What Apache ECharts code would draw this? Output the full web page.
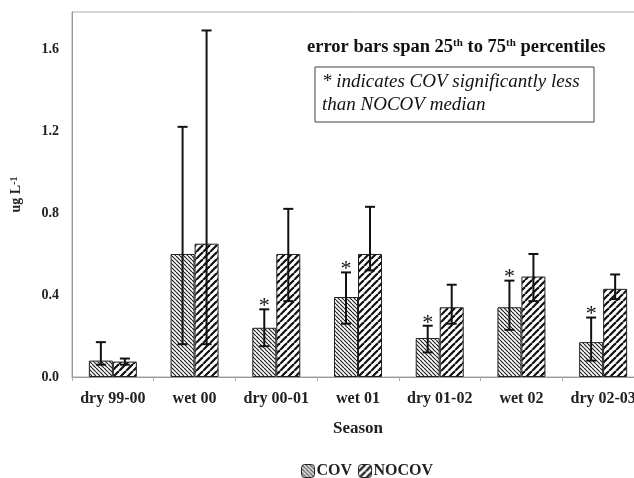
<!DOCTYPE html>
<html>
<head>
<meta charset="utf-8">
<script src="https://cdn.jsdelivr.net/npm/echarts@6/dist/echarts.min.js"></script>
<style>
  html, body { margin: 0; padding: 0; background: #fff; }
  #chart { width: 634px; height: 478px; }
</style>
</head>
<body>
<div id="chart"></div>
<script>
  // data
  const categories = ['dry 99-00', 'wet 00', 'dry 00-01', 'wet 01', 'dry 01-02', 'wet 02', 'dry 02-03'];
  const covMedian = [0.08, 0.60, 0.24, 0.39, 0.19, 0.34, 0.17];
  const nocovMedian = [0.075, 0.65, 0.60, 0.60, 0.34, 0.49, 0.43];
  const covP25 = [0.06, 0.16, 0.15, 0.26, 0.12, 0.23, 0.08];
  const covP75 = [0.17, 1.22, 0.33, 0.51, 0.25, 0.47, 0.29];
  const nocovP25 = [0.06, 0.16, 0.37, 0.52, 0.26, 0.37, 0.38];
  const nocovP75 = [0.09, 1.69, 0.82, 0.83, 0.45, 0.60, 0.50];
  const covSignificant = [0, 0, 1, 1, 1, 1, 1];
  const yTicks = [0, 0.4, 0.8, 1.2, 1.6];

  const serif = '"Liberation Serif", "DejaVu Serif", serif';
  const barW = 24;

  // hatch fills
  function hatch(size, width, color, dir) {
    const c = document.createElement('canvas');
    c.width = size; c.height = size;
    const ctx = c.getContext('2d');
    ctx.fillStyle = '#fff';
    ctx.fillRect(0, 0, size, size);
    ctx.strokeStyle = color;
    ctx.lineWidth = width;
    for (let k = -1; k <= 1; k++) {
      const x = k * size;
      ctx.beginPath();
      if (dir === 'back') {
        ctx.moveTo(x, 0); ctx.lineTo(x + size, size);
      } else {
        ctx.moveTo(x + size, 0); ctx.lineTo(x, size);
      }
      ctx.stroke();
    }
    return { image: c, repeat: 'repeat' };
  }
  const covFill = hatch(4, 1.2, '#222', 'back');
  const nocovFill = hatch(7, 2.2, '#111', 'fwd');

  function errorSeries(name, lo, hi, side, stars) {
    return {
      name: name + ' err',
      type: 'custom',
      z: 5,
      silent: true,
      data: categories.map((c, i) => [i, lo[i], hi[i], stars ? stars[i] : 0]),
      renderItem: function (params, api) {
        const i = api.value(0);
        const pLo = api.coord([i, api.value(1)]);
        const pHi = api.coord([i, api.value(2)]);
        const x = pLo[0] + side * barW / 2;
        const cap = 5;
        const style = { stroke: '#111', lineWidth: 2 };
        const children = [
          { type: 'line', shape: { x1: x, y1: pLo[1], x2: x, y2: pHi[1] }, style: style },
          { type: 'line', shape: { x1: x - cap, y1: pHi[1], x2: x + cap, y2: pHi[1] }, style: style },
          { type: 'line', shape: { x1: x - cap, y1: pLo[1], x2: x + cap, y2: pLo[1] }, style: style }
        ];
        if (api.value(3)) {
          children.push({
            type: 'text',
            style: {
              text: '*', x: x, y: pHi[1] + 8,
              align: 'center', verticalAlign: 'bottom',
              font: '22px ' + serif, fill: '#111'
            }
          });
        }
        return { type: 'group', children: children };
      }
    };
  }

  const chart = echarts.init(document.getElementById('chart'));
  const option = {
    animation: false,
    grid: {
      left: 72, top: 12, bottom: 101, width: 572,
      outerBoundsMode: 'none',
      show: true, borderColor: '#aaa', borderWidth: 1
    },
    legend: {
      data: [
        { name: 'COV', itemStyle: { color: covFill, borderColor: '#222', borderWidth: 1 } },
        { name: 'NOCOV', itemStyle: { color: nocovFill, borderColor: '#222', borderWidth: 1 } }
      ],
      left: 296, top: 458,
      itemWidth: 13, itemHeight: 13, itemGap: 6,
      textStyle: { fontFamily: serif, fontWeight: 'bold', fontSize: 16, color: '#222', padding: [0, 0, 0, -3] }
    },
    xAxis: {
      type: 'category',
      data: categories,
      name: 'Season',
      nameLocation: 'middle',
      nameGap: 43,
      nameTextStyle: { fontFamily: serif, fontWeight: 'bold', fontSize: 17, color: '#222' },
      axisLine: { lineStyle: { color: '#999' } },
      axisTick: { show: true, length: 4, lineStyle: { color: '#aaa' } },
      axisLabel: { interval: 0, margin: 14, fontFamily: serif, fontWeight: 'bold', fontSize: 16, color: '#222' }
    },
    yAxis: {
      type: 'value',
      min: 0, max: 1.78, interval: 0.4,
      name: 'ug L{sup|-1}',
      nameLocation: 'middle',
      nameRotate: 90,
      nameGap: 49,
      nameTextStyle: {
        fontFamily: serif, fontWeight: 'bold', fontSize: 14, color: '#222',
        rich: { sup: { fontFamily: serif, fontWeight: 'bold', fontSize: 10, verticalAlign: 'top', color: '#222' } }
      },
      axisLine: { show: true, lineStyle: { color: '#999' } },
      axisTick: { show: false },
      splitLine: { show: false },
      axisLabel: {
        showMaxLabel: false, margin: 13,
        fontFamily: serif, fontWeight: 'bold', fontSize: 14, color: '#222',
        formatter: function (v) { return yTicks.some(t => Math.abs(t - v) < 1e-6) ? v.toFixed(1) : ''; }
      }
    },
    series: [
      {
        name: 'COV', type: 'bar', data: covMedian, barWidth: barW, barGap: '0%',
        itemStyle: { color: covFill, borderColor: '#222', borderWidth: 1 }
      },
      {
        name: 'NOCOV', type: 'bar', data: nocovMedian, barWidth: barW,
        itemStyle: { color: nocovFill, borderColor: '#222', borderWidth: 1 }
      },
      errorSeries('COV', covP25, covP75, -1, covSignificant),
      errorSeries('NOCOV', nocovP25, nocovP75, 1, null)
    ],
    graphic: [
      {
        type: 'text', left: 307, top: 38,
        style: {
          text: 'error bars span 25{sup|th} to 75{sup|th} percentiles',
          font: 'bold 18.5px ' + serif, fill: '#111',
          rich: {
            sup: { fontFamily: serif, fontWeight: 'bold', fontSize: 11, verticalAlign: 'top', fill: '#111' }
          }
        }
      },
      {
        type: 'rect', shape: { x: 315, y: 67, width: 279, height: 55 },
        style: { fill: '#fff', stroke: '#444', lineWidth: 1 }
      },
      {
        type: 'text', left: 322, top: 70,
        style: {
          text: '* indicates COV significantly less\nthan NOCOV median',
          font: 'italic 19px ' + serif, fill: '#111', lineHeight: 23
        }
      }
    ]
  };
  chart.setOption(option);
</script>
</body>
</html>
